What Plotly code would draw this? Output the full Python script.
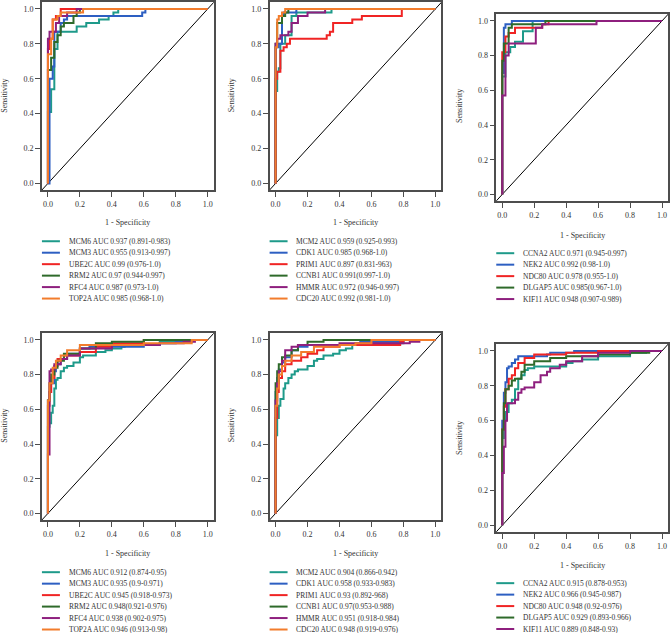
import plotly.graph_objects as go

W, H = 670, 633
FONT = "Liberation Serif"

# ---------------- data ----------------
tick_vals = [0.0, 0.2, 0.4, 0.6, 0.8, 1.0]
x_title = "1 - Specificity"
y_title = "Sensitivity"

colors6 = ["#1e9a8a", "#2d5fc2", "#f02424", "#2e6a2a", "#8e1f7e", "#f27c2c"]
colors5 = ["#1e9a8a", "#2d5fc2", "#f02424", "#2e6a2a", "#8e1f7e"]

# Panel 1 (top-left)
p1_labels = ["MCM6 AUC 0.937 (0.891-0.983)", "MCM3 AUC 0.955 (0.913-0.997)",
             "UBE2C AUC 0.99 (0.976-1.0)", "RRM2 AUC 0.97 (0.944-0.997)",
             "RFC4 AUC 0.987 (0.973-1.0)", "TOP2A AUC 0.985 (0.968-1.0)"]
p1_fpr = [
    [0, 0, 0.02, 0.02, 0.04, 0.04, 0.06, 0.06, 0.18, 0.18, 0.24, 0.24, 0.32, 0.32, 0.38, 0.38, 0.41, 0.41, 0.44, 0.44, 1],
    [0, 0.01, 0.01, 0.03, 0.03, 0.04, 0.04, 0.08, 0.08, 0.10, 0.10, 0.12, 0.12, 0.59, 0.59, 0.61, 0.61, 1],
    [0, 0, 0.01, 0.01, 0.03, 0.03, 0.05, 0.05, 0.08, 0.08, 1],
    [0, 0, 0.02, 0.02, 0.04, 0.04, 0.06, 0.06, 0.08, 0.08, 0.10, 0.10, 0.16, 0.16, 0.18, 0.18, 0.20, 0.20, 1],
    [0, 0, 0.01, 0.01, 0.05, 0.05, 0.07, 0.07, 0.12, 0.12, 0.18, 0.18, 1],
    [0, 0, 0.02, 0.02, 0.03, 0.03, 0.06, 0.06, 0.08, 0.08, 0.22, 0.22, 1],
]
p1_tpr = [
    [0, 0.41, 0.41, 0.54, 0.54, 0.77, 0.77, 0.87, 0.87, 0.90, 0.90, 0.92, 0.92, 0.94, 0.94, 0.96, 0.96, 0.98, 0.98, 1.0, 1.0],
    [0, 0, 0.60, 0.60, 0.67, 0.67, 0.87, 0.87, 0.92, 0.92, 0.94, 0.94, 0.96, 0.96, 0.98, 0.98, 1.0, 1.0],
    [0, 0.77, 0.77, 0.83, 0.83, 0.94, 0.94, 0.96, 0.96, 1.0, 1.0],
    [0, 0.65, 0.65, 0.72, 0.72, 0.81, 0.81, 0.85, 0.85, 0.90, 0.90, 0.92, 0.92, 0.96, 0.96, 0.98, 0.98, 1.0, 1.0],
    [0, 0.83, 0.83, 0.87, 0.87, 0.92, 0.92, 0.96, 0.96, 0.98, 0.98, 1.0, 1.0],
    [0, 0.74, 0.74, 0.83, 0.83, 0.94, 0.94, 0.96, 0.96, 0.98, 0.98, 1.0, 1.0],
]

# Panel 2 (top-middle)
p2_labels = ["MCM2 AUC 0.959 (0.925-0.993)", "CDK1 AUC 0.985 (0.968-1.0)",
             "PRIM1 AUC 0.897 (0.831-963)", "CCNB1 AUC 0.991(0.997-1.0)",
             "HMMR AUC 0.972 (0.946-0.997)", "CDC20 AUC 0.992 (0.981-1.0)"]
p2_fpr = [
    [0, 0, 0.01, 0.01, 0.02, 0.02, 0.03, 0.03, 0.06, 0.06, 0.10, 0.10, 0.13, 0.13, 0.35, 0.35, 1],
    [0, 0, 0.02, 0.02, 0.04, 0.04, 0.05, 0.05, 0.13, 0.13, 1],
    [0, 0, 0.01, 0.01, 0.03, 0.03, 0.05, 0.05, 0.07, 0.07, 0.09, 0.09, 0.32, 0.32, 0.34, 0.34, 0.36, 0.36, 0.48, 0.48, 0.54, 0.54, 0.79, 0.79, 1],
    [0, 0, 0.01, 0.01, 0.04, 0.04, 0.06, 0.06, 0.08, 0.08, 1],
    [0, 0, 0.01, 0.01, 0.03, 0.03, 0.08, 0.08, 0.10, 0.10, 0.14, 0.14, 0.20, 0.20, 0.31, 0.31, 1],
    [0, 0, 0.01, 0.01, 0.02, 0.02, 0.04, 0.04, 0.06, 0.06, 1],
]
p2_tpr = [
    [0, 0.53, 0.53, 0.64, 0.64, 0.66, 0.66, 0.80, 0.80, 0.85, 0.85, 0.96, 0.96, 0.98, 0.98, 1.0, 1.0],
    [0, 0.78, 0.78, 0.80, 0.80, 0.96, 0.96, 0.98, 0.98, 1.0, 1.0],
    [0, 0.60, 0.60, 0.64, 0.64, 0.76, 0.76, 0.78, 0.78, 0.80, 0.80, 0.83, 0.83, 0.85, 0.85, 0.87, 0.87, 0.92, 0.92, 0.94, 0.94, 0.96, 0.96, 1.0, 1.0],
    [0, 0.80, 0.80, 0.92, 0.92, 0.96, 0.96, 0.98, 0.98, 1.0, 1.0],
    [0, 0.80, 0.80, 0.83, 0.83, 0.85, 0.85, 0.87, 0.87, 0.92, 0.92, 0.96, 0.96, 0.98, 0.98, 1.0, 1.0],
    [0, 0.78, 0.78, 0.94, 0.94, 0.96, 0.96, 0.98, 0.98, 1.0, 1.0],
]

# Panel 3 (top-right)
p3_labels = ["CCNA2 AUC 0.971 (0.945-0.997)", "NEK2 AUC 0.992 (0.98-1.0)",
             "NDC80 AUC 0.978 (0.955-1.0)", "DLGAP5 AUC 0.985(0.967-1.0)",
             "KIF11 AUC 0.948 (0.907-0.989)"]
p3_fpr = [
    [0, 0, 0.02, 0.02, 0.05, 0.05, 0.08, 0.08, 0.13, 0.13, 0.19, 0.19, 1],
    [0, 0, 0.01, 0.01, 0.02, 0.02, 0.06, 0.06, 1],
    [0, 0, 0.02, 0.02, 0.04, 0.04, 0.08, 0.08, 0.25, 0.25, 0.29, 0.29, 1],
    [0, 0, 0.01, 0.01, 0.04, 0.04, 0.06, 0.06, 0.27, 0.27, 1],
    [0, 0, 0.02, 0.02, 0.04, 0.04, 0.21, 0.21, 0.25, 0.25, 0.59, 0.59, 1],
]
p3_tpr = [
    [0, 0.68, 0.68, 0.82, 0.82, 0.85, 0.85, 0.88, 0.88, 0.94, 0.94, 1.0, 1.0],
    [0, 0.70, 0.70, 0.96, 0.96, 0.98, 0.98, 1.0, 1.0],
    [0, 0.82, 0.82, 0.91, 0.91, 0.93, 0.93, 0.96, 0.96, 0.98, 0.98, 1.0, 1.0],
    [0, 0.77, 0.77, 0.87, 0.87, 0.96, 0.96, 0.98, 0.98, 1.0, 1.0],
    [0, 0.57, 0.57, 0.80, 0.80, 0.87, 0.87, 0.96, 0.96, 0.98, 0.98, 1.0, 1.0],
]

# Panel 4 (bottom-left)
p4_labels = ["MCM6 AUC 0.912 (0.874-0.95)", "MCM3 AUC 0.935 (0.9-0.971)",
             "UBE2C AUC 0.945 (0.918-0.973)", "RRM2 AUC 0.948(0.921-0.976)",
             "RFC4 AUC 0.938 (0.902-0.975)", "TOP2A AUC 0.946 (0.913-0.98)"]
p4_fpr = [
    [0, 0, 0.01, 0.02, 0.03, 0.04, 0.05, 0.06, 0.08, 0.10, 0.12, 0.16, 0.20, 0.22, 0.30, 0.36, 0.40, 0.46, 0.48, 0.70, 0.90, 1],
    [0, 0, 0.01, 0.02, 0.04, 0.05, 0.08, 0.12, 0.20, 0.26, 0.30, 0.60, 0.70, 0.80, 0.90, 1],
    [0, 0, 0.01, 0.02, 0.04, 0.06, 0.10, 0.20, 0.30, 0.40, 0.60, 0.65, 1],
    [0, 0, 0, 0.01, 0.02, 0.04, 0.06, 0.10, 0.20, 0.30, 0.40, 0.60, 0.85, 1],
    [0, 0, 0.01, 0.01, 0.02, 0.04, 0.08, 0.12, 0.20, 0.40, 0.70, 0.85, 0.92, 1],
    [0, 0, 0.01, 0.03, 0.05, 0.08, 0.12, 0.20, 0.24, 0.40, 0.60, 0.90, 1],
]
p4_tpr = [
    [0, 0.44, 0.50, 0.52, 0.58, 0.62, 0.72, 0.77, 0.78, 0.82, 0.84, 0.85, 0.87, 0.90, 0.91, 0.93, 0.94, 0.95, 0.96, 0.97, 0.99, 1.0],
    [0, 0.60, 0.65, 0.70, 0.75, 0.82, 0.86, 0.89, 0.92, 0.95, 0.96, 0.96, 0.97, 0.98, 0.99, 1.0],
    [0, 0.55, 0.62, 0.70, 0.78, 0.85, 0.89, 0.91, 0.93, 0.96, 0.98, 1.0, 1.0],
    [0, 0.35, 0.50, 0.65, 0.75, 0.80, 0.84, 0.88, 0.92, 0.95, 0.98, 0.99, 1.0, 1.0],
    [0, 0.30, 0.34, 0.78, 0.82, 0.83, 0.86, 0.89, 0.91, 0.95, 0.97, 0.98, 0.99, 1.0],
    [0, 0.40, 0.65, 0.75, 0.84, 0.88, 0.91, 0.94, 0.97, 0.97, 0.97, 0.98, 1.0],
]

# Panel 5 (bottom-middle)
p5_labels = ["MCM2 AUC 0.904 (0.866-0.942)", "CDK1 AUC 0.958 (0.933-0.983)",
             "PRIM1 AUC 0.93 (0.892-968)", "CCNB1 AUC 0.97(0.953-0.988)",
             "HMMR AUC 0.951 (0.918-0.984)", "CDC20 AUC 0.948 (0.919-0.976)"]
p5_fpr = [
    [0, 0, 0.01, 0.02, 0.03, 0.05, 0.06, 0.08, 0.10, 0.12, 0.14, 0.20, 0.24, 0.26, 0.30, 0.36, 0.40, 0.44, 0.48, 0.55, 0.65, 0.80, 1],
    [0, 0, 0.01, 0.02, 0.04, 0.06, 0.10, 0.14, 0.20, 0.30, 0.50, 0.53, 0.80, 1],
    [0, 0, 0.01, 0.02, 0.04, 0.06, 0.10, 0.16, 0.20, 0.26, 0.30, 0.40, 0.60, 0.78, 0.80, 1],
    [0, 0, 0.01, 0.02, 0.04, 0.06, 0.10, 0.14, 0.20, 0.30, 0.50, 1],
    [0, 0, 0.01, 0.02, 0.04, 0.06, 0.10, 0.14, 0.20, 0.40, 0.70, 0.84, 0.90, 1],
    [0, 0, 0.01, 0.02, 0.04, 0.06, 0.10, 0.16, 0.24, 0.40, 0.50, 0.60, 0.90, 1],
]
p5_tpr = [
    [0, 0.30, 0.45, 0.55, 0.62, 0.66, 0.72, 0.75, 0.78, 0.80, 0.82, 0.83, 0.85, 0.88, 0.89, 0.91, 0.92, 0.94, 0.95, 0.97, 0.98, 0.98, 1.0],
    [0, 0.40, 0.70, 0.78, 0.83, 0.87, 0.90, 0.94, 0.96, 0.97, 0.97, 0.98, 0.99, 1.0],
    [0, 0.30, 0.55, 0.70, 0.78, 0.82, 0.86, 0.88, 0.90, 0.92, 0.94, 0.96, 0.97, 0.97, 0.99, 1.0],
    [0, 0.40, 0.75, 0.82, 0.86, 0.90, 0.91, 0.94, 0.97, 0.99, 1.0, 1.0],
    [0, 0.35, 0.65, 0.75, 0.82, 0.88, 0.94, 0.96, 0.97, 0.97, 0.98, 0.98, 0.99, 1.0],
    [0, 0.35, 0.62, 0.72, 0.80, 0.85, 0.88, 0.91, 0.93, 0.96, 0.97, 0.98, 1.0, 1.0],
]

# Panel 6 (bottom-right)
p6_labels = ["CCNA2 AUC 0.915 (0.878-0.953)", "NEK2 AUC 0.966 (0.945-0.987)",
             "NDC80 AUC 0.948 (0.92-0.976)", "DLGAP5 AUC 0.929 (0.893-0.966)",
             "KIF11 AUC 0.889 (0.848-0.93)"]
p6_fpr = [
    [0, 0, 0.01, 0.02, 0.04, 0.06, 0.08, 0.10, 0.12, 0.14, 0.16, 0.20, 0.30, 0.40, 0.44, 0.50, 0.60, 0.80, 0.90, 1],
    [0, 0, 0.01, 0.02, 0.03, 0.04, 0.06, 0.08, 0.10, 0.14, 0.28, 0.30, 0.45, 0.50, 1],
    [0, 0, 0.01, 0.02, 0.04, 0.06, 0.08, 0.10, 0.14, 0.20, 0.24, 0.40, 0.60, 0.80, 1],
    [0, 0, 0.01, 0.02, 0.04, 0.06, 0.08, 0.12, 0.14, 0.20, 0.30, 0.40, 0.60, 0.80, 0.92, 1],
    [0, 0, 0.01, 0.02, 0.03, 0.04, 0.08, 0.10, 0.12, 0.14, 0.20, 0.24, 0.28, 0.30, 0.36, 0.40, 0.50, 0.60, 0.80, 1],
]
p6_tpr = [
    [0, 0.45, 0.50, 0.60, 0.65, 0.70, 0.72, 0.78, 0.84, 0.86, 0.89, 0.90, 0.91, 0.91, 0.93, 0.94, 0.95, 0.97, 0.99, 1.0],
    [0, 0.50, 0.60, 0.76, 0.82, 0.90, 0.91, 0.93, 0.95, 0.97, 0.97, 0.98, 0.99, 1.0, 1.0],
    [0, 0.50, 0.55, 0.68, 0.78, 0.84, 0.86, 0.90, 0.93, 0.96, 0.98, 0.98, 0.99, 1.0, 1.0],
    [0, 0.40, 0.55, 0.70, 0.78, 0.80, 0.83, 0.84, 0.88, 0.92, 0.94, 0.96, 0.97, 0.98, 0.99, 1.0],
    [0, 0.15, 0.30, 0.45, 0.60, 0.70, 0.70, 0.72, 0.76, 0.78, 0.79, 0.82, 0.86, 0.88, 0.90, 0.92, 0.94, 0.97, 0.99, 1.0],
]

# ---------------- layout geometry (pixels) ----------------
# (box_left, box_right, box_top, box_bottom)
boxes = [(42, 214, 0, 189), (270, 442, 0, 189), (497, 669, 12, 200),
         (42, 214, 332, 520), (270, 442, 332, 520), (497, 669, 343, 532)]
x_title_y = [221, 221, 234, 553, 553, 565]
y_title_pos = [(5, 94), (232, 94), (460, 104), (5, 425), (232, 425), (460, 437)]
legend_rows0 = [240, 240, 252, 572, 572, 583]
legend_line_x = [(42, 60), (270, 288), (497, 515), (42, 60), (270, 288), (497, 515)]
legend_text_x = [67, 294, 522, 67, 294, 522]
row_gap = 11.5

XR = [-0.0375, 1.0375]
YR = [-0.04, 1.04]


def px(x):
    return x / W


def py(y):
    return 1 - y / H


panels = [
    (p1_fpr, p1_tpr, p1_labels, colors6, "linear"),
    (p2_fpr, p2_tpr, p2_labels, colors6, "linear"),
    (p3_fpr, p3_tpr, p3_labels, colors5, "linear"),
    (p4_fpr, p4_tpr, p4_labels, colors6, "vh"),
    (p5_fpr, p5_tpr, p5_labels, colors6, "vh"),
    (p6_fpr, p6_tpr, p6_labels, colors5, "vh"),
]

fig = go.Figure()
annotations = []
shapes = []
axis_common = dict(
    showgrid=False, zeroline=False, showline=True, mirror=True,
    linecolor="#4d4d4d", linewidth=1.5, ticks="outside", ticklen=5,
    tickwidth=1, tickcolor="#4d4d4d",
    tickfont=dict(family=FONT, size=8, color="#333333"),
    tickvals=tick_vals, tickformat=".1f", fixedrange=True,
)

for i, (fprs, tprs, labels, cols, shape) in enumerate(panels):
    k = i + 1
    xa = "x" if k == 1 else f"x{k}"
    ya = "y" if k == 1 else f"y{k}"
    bl, br, bt, bb = boxes[i]
    fig.update_layout(**{
        ("xaxis" if k == 1 else f"xaxis{k}"): dict(
            axis_common, domain=[px(bl), px(br)], range=XR, anchor=ya),
        ("yaxis" if k == 1 else f"yaxis{k}"): dict(
            axis_common, domain=[py(bb), py(bt)], range=YR, anchor=xa),
    })
    # diagonal reference
    fig.add_trace(go.Scatter(x=[-0.1, 1.1], y=[-0.1, 1.1], mode="lines",
                             line=dict(color="black", width=1),
                             xaxis=xa, yaxis=ya, showlegend=False,
                             hoverinfo="skip"))
    for j, (fx, ty) in enumerate(zip(fprs, tprs)):
        fig.add_trace(go.Scatter(x=fx, y=ty, mode="lines",
                                 line=dict(color=cols[j], width=2, shape=shape),
                                 xaxis=xa, yaxis=ya, showlegend=False,
                                 name=labels[j]))
    # axis titles
    annotations.append(dict(text=x_title, x=px((bl + br) / 2), y=py(x_title_y[i]),
                            xref="paper", yref="paper", showarrow=False,
                            xanchor="center", yanchor="middle",
                            font=dict(family=FONT, size=8, color="#333333")))
    tx, tyy = y_title_pos[i]
    annotations.append(dict(text=y_title, x=px(tx), y=py(tyy), textangle=-90,
                            xref="paper", yref="paper", showarrow=False,
                            xanchor="center", yanchor="middle",
                            font=dict(family=FONT, size=8, color="#333333")))
    # legend
    for j, lab in enumerate(labels):
        ry = legend_rows0[i] + j * row_gap
        lx0, lx1 = legend_line_x[i]
        shapes.append(dict(type="line", xref="paper", yref="paper",
                           x0=px(lx0), x1=px(lx1), y0=py(ry), y1=py(ry),
                           line=dict(color=cols[j], width=2)))
        annotations.append(dict(text=lab, x=px(legend_text_x[i]), y=py(ry),
                                xref="paper", yref="paper", showarrow=False,
                                xanchor="left", yanchor="middle",
                                font=dict(family=FONT, size=7.5, color="#333333")))

fig.update_layout(
    width=W, height=H, margin=dict(l=0, r=0, t=0, b=0),
    paper_bgcolor="white", plot_bgcolor="white",
    showlegend=False, annotations=annotations, shapes=shapes,
    font=dict(family=FONT),
)

fig.write_html("out.html", config={"displayModeBar": False},
               post_script="document.body.style.margin='0';document.body.style.overflow='hidden';")
